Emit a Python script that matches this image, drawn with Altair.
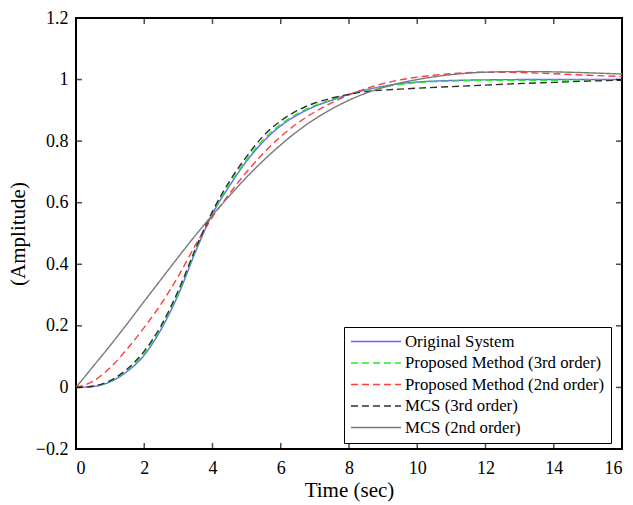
import altair as alt
import pandas as pd

t = [0, 0.5, 1, 1.5, 2, 2.5, 3, 3.5, 4, 4.5, 5, 5.5, 6, 6.5, 7, 7.5, 8, 8.5, 9, 9.5, 10, 11, 12, 13, 14, 15, 16]

original = [0, 0.003, 0.018, 0.052, 0.105, 0.19, 0.302, 0.44, 0.564, 0.655, 0.735, 0.80, 0.85, 0.886, 0.913, 0.933, 0.952, 0.967, 0.978, 0.987, 0.992, 0.997, 0.999, 1.0, 1.0, 1.0, 1.0]
prop3 = [0, 0.004, 0.02, 0.056, 0.11, 0.196, 0.308, 0.445, 0.567, 0.66, 0.74, 0.806, 0.855, 0.89, 0.916, 0.935, 0.952, 0.966, 0.976, 0.984, 0.99, 0.995, 0.997, 0.998, 0.998, 0.999, 0.999]
prop2 = [0, 0.02, 0.064, 0.125, 0.195, 0.272, 0.362, 0.462, 0.553, 0.63, 0.7, 0.762, 0.815, 0.859, 0.895, 0.925, 0.95, 0.971, 0.987, 0.999, 1.008, 1.019, 1.024, 1.023, 1.019, 1.014, 1.01]
mcs3 = [0, 0.004, 0.022, 0.06, 0.118, 0.202, 0.315, 0.45, 0.572, 0.67, 0.75, 0.818, 0.866, 0.9, 0.924, 0.94, 0.952, 0.961, 0.966, 0.969, 0.972, 0.977, 0.982, 0.987, 0.991, 0.995, 0.998]
mcs2 = [0, 0.068, 0.136, 0.207, 0.28, 0.352, 0.424, 0.494, 0.56, 0.623, 0.683, 0.738, 0.788, 0.833, 0.872, 0.905, 0.933, 0.956, 0.974, 0.989, 1.0, 1.016, 1.024, 1.026, 1.025, 1.022, 1.018]

series_names = ["Original System", "Proposed Method (3rd order)", "Proposed Method (2nd order)", "MCS (3rd order)", "MCS (2nd order)"]
series_values = [original, prop3, prop2, mcs3, mcs2]
series_colors = ["#6464ff", "#22ee22", "#ff3b3b", "#303030", "#7a7a7a"]
series_dashes = [[1, 0], [7, 4], [7, 4], [7, 4], [1, 0]]

x_ticks = [0, 2, 4, 6, 8, 10, 12, 14, 16]
y_ticks = [-0.2, 0, 0.2, 0.4, 0.6, 0.8, 1.0, 1.2]

rows = []
for name, vals in zip(series_names, series_values):
    for ti, v in zip(t, vals):
        rows.append({"t": ti, "v": v, "series": name})
df = pd.DataFrame(rows)

W, H = 546, 431
FONT = "Liberation Serif"

xscale = alt.Scale(domain=[0, 16], nice=False)
yscale = alt.Scale(domain=[-0.2, 1.2], nice=False)

legend_kw = dict(title=None, orient="none", legendX=268, legendY=309,
                 symbolType="stroke", symbolSize=2500, symbolStrokeWidth=1.5,
                 labelFont=FONT, labelFontSize=16.8, labelColor="black",
                 labelOffset=3, rowPadding=3.5, padding=6, clipHeight=17,
                 strokeColor="black", fillColor="white", cornerRadius=0,
                 labelLimit=300)

lines = alt.Chart(df).mark_line(strokeWidth=1.4, interpolate="monotone").encode(
    x=alt.X("t:Q", scale=xscale,
            axis=alt.Axis(title="Time (sec)", values=x_ticks, format="~g", ticks=False, domain=False,
                          grid=False, labelFont=FONT, labelFontSize=18, labelColor="black",
                          labelPadding=10, titleFont=FONT, titleFontSize=21, titleFontWeight="normal",
                          titleColor="black", titlePadding=2)),
    y=alt.Y("v:Q", scale=yscale,
            axis=alt.Axis(title="(Amplitude)", values=y_ticks, format="~g", ticks=False, domain=False,
                          grid=False, labelFont=FONT, labelFontSize=18, labelColor="black",
                          labelPadding=8, titleFont=FONT, titleFontSize=21, titleFontWeight="normal",
                          titleColor="black", titlePadding=7)),
    color=alt.Color("series:N", scale=alt.Scale(domain=series_names, range=series_colors),
                    legend=alt.Legend(**legend_kw)),
    strokeDash=alt.StrokeDash("series:N", scale=alt.Scale(domain=series_names, range=series_dashes),
                              legend=alt.Legend(**legend_kw)),
    order=alt.Order("t:Q"),
)

xt = pd.DataFrame({"tick": x_ticks[1:-1]})
yt = pd.DataFrame({"tick": y_ticks[1:-1]})

tick_bottom = alt.Chart(xt).mark_tick(orient="vertical", size=6, thickness=1.5, color="black").encode(
    x=alt.X("tick:Q", scale=xscale), y=alt.value(H - 3))
tick_top = alt.Chart(xt).mark_tick(orient="vertical", size=6, thickness=1.5, color="black").encode(
    x=alt.X("tick:Q", scale=xscale), y=alt.value(3))
tick_left = alt.Chart(yt).mark_tick(orient="horizontal", size=6, thickness=1.5, color="black").encode(
    y=alt.Y("tick:Q", scale=yscale), x=alt.value(3))
tick_right = alt.Chart(yt).mark_tick(orient="horizontal", size=6, thickness=1.5, color="black").encode(
    y=alt.Y("tick:Q", scale=yscale), x=alt.value(W - 3))

chart = alt.layer(lines, tick_bottom, tick_top, tick_left, tick_right).properties(
    width=W, height=H, autosize="none",
    padding={"left": 76, "top": 18, "right": 11, "bottom": 56},
    background="white",
).configure_view(stroke="black", strokeWidth=2)

chart.save("out.html", embed_options={"renderer": "svg", "actions": False})
